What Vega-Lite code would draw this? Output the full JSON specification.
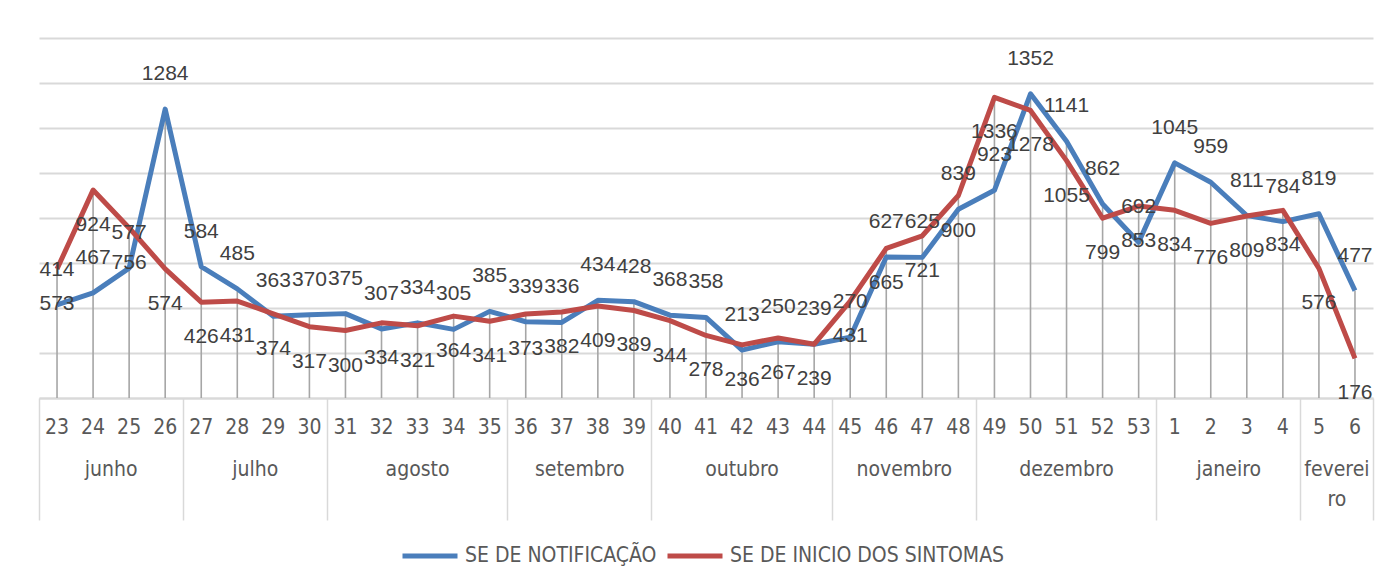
{
  "$schema": "https://vega.github.io/schema/vega-lite/v6.json",
  "width": 1334,
  "height": 360,
  "padding": {"left": 39, "top": 38, "right": 20, "bottom": 189},
  "autosize": {"type": "none"},
  "background": "white",
  "config": {"view": {"stroke": null}},
  "data": {
    "values": [
      {"sem": "23", "mes": "junho", "serie": "SE DE NOTIFICAÇÃO", "valor": 414},
      {"sem": "24", "mes": "junho", "serie": "SE DE NOTIFICAÇÃO", "valor": 467},
      {"sem": "25", "mes": "junho", "serie": "SE DE NOTIFICAÇÃO", "valor": 577},
      {"sem": "26", "mes": "junho", "serie": "SE DE NOTIFICAÇÃO", "valor": 1284},
      {"sem": "27", "mes": "julho", "serie": "SE DE NOTIFICAÇÃO", "valor": 584},
      {"sem": "28", "mes": "julho", "serie": "SE DE NOTIFICAÇÃO", "valor": 485},
      {"sem": "29", "mes": "julho", "serie": "SE DE NOTIFICAÇÃO", "valor": 363},
      {"sem": "30", "mes": "julho", "serie": "SE DE NOTIFICAÇÃO", "valor": 370},
      {"sem": "31", "mes": "agosto", "serie": "SE DE NOTIFICAÇÃO", "valor": 375},
      {"sem": "32", "mes": "agosto", "serie": "SE DE NOTIFICAÇÃO", "valor": 307},
      {"sem": "33", "mes": "agosto", "serie": "SE DE NOTIFICAÇÃO", "valor": 334},
      {"sem": "34", "mes": "agosto", "serie": "SE DE NOTIFICAÇÃO", "valor": 305},
      {"sem": "35", "mes": "agosto", "serie": "SE DE NOTIFICAÇÃO", "valor": 385},
      {"sem": "36", "mes": "setembro", "serie": "SE DE NOTIFICAÇÃO", "valor": 339},
      {"sem": "37", "mes": "setembro", "serie": "SE DE NOTIFICAÇÃO", "valor": 336},
      {"sem": "38", "mes": "setembro", "serie": "SE DE NOTIFICAÇÃO", "valor": 434},
      {"sem": "39", "mes": "setembro", "serie": "SE DE NOTIFICAÇÃO", "valor": 428},
      {"sem": "40", "mes": "outubro", "serie": "SE DE NOTIFICAÇÃO", "valor": 368},
      {"sem": "41", "mes": "outubro", "serie": "SE DE NOTIFICAÇÃO", "valor": 358},
      {"sem": "42", "mes": "outubro", "serie": "SE DE NOTIFICAÇÃO", "valor": 213},
      {"sem": "43", "mes": "outubro", "serie": "SE DE NOTIFICAÇÃO", "valor": 250},
      {"sem": "44", "mes": "outubro", "serie": "SE DE NOTIFICAÇÃO", "valor": 239},
      {"sem": "45", "mes": "novembro", "serie": "SE DE NOTIFICAÇÃO", "valor": 270},
      {"sem": "46", "mes": "novembro", "serie": "SE DE NOTIFICAÇÃO", "valor": 627},
      {"sem": "47", "mes": "novembro", "serie": "SE DE NOTIFICAÇÃO", "valor": 625},
      {"sem": "48", "mes": "novembro", "serie": "SE DE NOTIFICAÇÃO", "valor": 839},
      {"sem": "49", "mes": "dezembro", "serie": "SE DE NOTIFICAÇÃO", "valor": 923},
      {"sem": "50", "mes": "dezembro", "serie": "SE DE NOTIFICAÇÃO", "valor": 1352},
      {"sem": "51", "mes": "dezembro", "serie": "SE DE NOTIFICAÇÃO", "valor": 1141},
      {"sem": "52", "mes": "dezembro", "serie": "SE DE NOTIFICAÇÃO", "valor": 862},
      {"sem": "53", "mes": "dezembro", "serie": "SE DE NOTIFICAÇÃO", "valor": 692},
      {"sem": "1", "mes": "janeiro", "serie": "SE DE NOTIFICAÇÃO", "valor": 1045},
      {"sem": "2", "mes": "janeiro", "serie": "SE DE NOTIFICAÇÃO", "valor": 959},
      {"sem": "3", "mes": "janeiro", "serie": "SE DE NOTIFICAÇÃO", "valor": 811},
      {"sem": "4", "mes": "janeiro", "serie": "SE DE NOTIFICAÇÃO", "valor": 784},
      {"sem": "5", "mes": "fevereiro", "serie": "SE DE NOTIFICAÇÃO", "valor": 819},
      {"sem": "6", "mes": "fevereiro", "serie": "SE DE NOTIFICAÇÃO", "valor": 477},
      {"sem": "23", "mes": "junho", "serie": "SE DE INICIO DOS SINTOMAS", "valor": 573},
      {"sem": "24", "mes": "junho", "serie": "SE DE INICIO DOS SINTOMAS", "valor": 924},
      {"sem": "25", "mes": "junho", "serie": "SE DE INICIO DOS SINTOMAS", "valor": 756},
      {"sem": "26", "mes": "junho", "serie": "SE DE INICIO DOS SINTOMAS", "valor": 574},
      {"sem": "27", "mes": "julho", "serie": "SE DE INICIO DOS SINTOMAS", "valor": 426},
      {"sem": "28", "mes": "julho", "serie": "SE DE INICIO DOS SINTOMAS", "valor": 431},
      {"sem": "29", "mes": "julho", "serie": "SE DE INICIO DOS SINTOMAS", "valor": 374},
      {"sem": "30", "mes": "julho", "serie": "SE DE INICIO DOS SINTOMAS", "valor": 317},
      {"sem": "31", "mes": "agosto", "serie": "SE DE INICIO DOS SINTOMAS", "valor": 300},
      {"sem": "32", "mes": "agosto", "serie": "SE DE INICIO DOS SINTOMAS", "valor": 334},
      {"sem": "33", "mes": "agosto", "serie": "SE DE INICIO DOS SINTOMAS", "valor": 321},
      {"sem": "34", "mes": "agosto", "serie": "SE DE INICIO DOS SINTOMAS", "valor": 364},
      {"sem": "35", "mes": "agosto", "serie": "SE DE INICIO DOS SINTOMAS", "valor": 341},
      {"sem": "36", "mes": "setembro", "serie": "SE DE INICIO DOS SINTOMAS", "valor": 373},
      {"sem": "37", "mes": "setembro", "serie": "SE DE INICIO DOS SINTOMAS", "valor": 382},
      {"sem": "38", "mes": "setembro", "serie": "SE DE INICIO DOS SINTOMAS", "valor": 409},
      {"sem": "39", "mes": "setembro", "serie": "SE DE INICIO DOS SINTOMAS", "valor": 389},
      {"sem": "40", "mes": "outubro", "serie": "SE DE INICIO DOS SINTOMAS", "valor": 344},
      {"sem": "41", "mes": "outubro", "serie": "SE DE INICIO DOS SINTOMAS", "valor": 278},
      {"sem": "42", "mes": "outubro", "serie": "SE DE INICIO DOS SINTOMAS", "valor": 236},
      {"sem": "43", "mes": "outubro", "serie": "SE DE INICIO DOS SINTOMAS", "valor": 267},
      {"sem": "44", "mes": "outubro", "serie": "SE DE INICIO DOS SINTOMAS", "valor": 239},
      {"sem": "45", "mes": "novembro", "serie": "SE DE INICIO DOS SINTOMAS", "valor": 431},
      {"sem": "46", "mes": "novembro", "serie": "SE DE INICIO DOS SINTOMAS", "valor": 665},
      {"sem": "47", "mes": "novembro", "serie": "SE DE INICIO DOS SINTOMAS", "valor": 721},
      {"sem": "48", "mes": "novembro", "serie": "SE DE INICIO DOS SINTOMAS", "valor": 900},
      {"sem": "49", "mes": "dezembro", "serie": "SE DE INICIO DOS SINTOMAS", "valor": 1336},
      {"sem": "50", "mes": "dezembro", "serie": "SE DE INICIO DOS SINTOMAS", "valor": 1278},
      {"sem": "51", "mes": "dezembro", "serie": "SE DE INICIO DOS SINTOMAS", "valor": 1055},
      {"sem": "52", "mes": "dezembro", "serie": "SE DE INICIO DOS SINTOMAS", "valor": 799},
      {"sem": "53", "mes": "dezembro", "serie": "SE DE INICIO DOS SINTOMAS", "valor": 853},
      {"sem": "1", "mes": "janeiro", "serie": "SE DE INICIO DOS SINTOMAS", "valor": 834},
      {"sem": "2", "mes": "janeiro", "serie": "SE DE INICIO DOS SINTOMAS", "valor": 776},
      {"sem": "3", "mes": "janeiro", "serie": "SE DE INICIO DOS SINTOMAS", "valor": 809},
      {"sem": "4", "mes": "janeiro", "serie": "SE DE INICIO DOS SINTOMAS", "valor": 834},
      {"sem": "5", "mes": "fevereiro", "serie": "SE DE INICIO DOS SINTOMAS", "valor": 576},
      {"sem": "6", "mes": "fevereiro", "serie": "SE DE INICIO DOS SINTOMAS", "valor": 176}
    ]
  },
  "layer": [
    {
      "mark": {"type": "rule", "color": "#a6a6a6", "strokeWidth": 1.6},
      "encoding": {
        "x": {
          "field": "sem", "type": "nominal",
          "scale": {"type": "band", "paddingInner": 0, "paddingOuter": 0,
            "domain": ["23","24","25","26","27","28","29","30","31","32","33","34","35","36","37","38","39","40","41","42","43","44","45","46","47","48","49","50","51","52","53","1","2","3","4","5","6"]},
          "axis": {
            "orient": "bottom",
            "title": null,
            "bandPosition": 1,
            "tickExtra": true,
            "domain": false,
            "grid": false,
            "ticks": true,
            "tickSize": 122,
            "tickColor": "#d9d9d9",
            "tickWidth": 1.5,
            "tickOpacity": {"condition": {"test": "datum.extra || indexof(['26','30','35','39','44','48','53','4','6'], datum.value) >= 0", "value": 1}, "value": 0},
            "labelExpr": "datum.value == '24' ? 'junho' : datum.value == '28' ? 'julho' : datum.value == '33' ? 'agosto' : datum.value == '37' ? 'setembro' : datum.value == '42' ? 'outubro' : datum.value == '46' ? 'novembro' : datum.value == '51' ? 'dezembro' : datum.value == '2' ? 'janeiro' : datum.value == '5' ? ['feverei','ro'] : ''",
            "labelPadding": -62,
            "labelAngle": 0,
            "labelFont": "DejaVu Sans Condensed, sans-serif",
            "labelFontSize": 21,
            "labelColor": "#595959",
            "labelLineHeight": 30,
            "labelOverlap": false,
            "labelBound": false,
            "labelFlush": false,
            "labelOffset": {"condition": {"test": "indexof(['24','28','37','46','2','5'], datum.value) >= 0", "value": 18}, "value": 0}
          }
        },
        "y": {"aggregate": "max", "field": "valor", "type": "quantitative"},
        "y2": {"datum": 0}
      }
    },
    {
      "transform": [{"filter": "datum.serie == 'SE DE NOTIFICAÇÃO'"}],
      "mark": {"type": "line", "strokeWidth": 5, "strokeJoin": "round"},
      "encoding": {
        "x": {
          "field": "sem", "type": "nominal",
          "axis": {
            "orient": "bottom",
            "title": null,
            "domain": true,
            "domainColor": "#d9d9d9",
            "domainWidth": 2,
            "ticks": false,
            "grid": false,
            "labelPadding": 18,
            "labelAngle": 0,
            "labelFont": "DejaVu Sans Condensed, sans-serif",
            "labelFontSize": 21,
            "labelColor": "#595959",
            "labelOverlap": false
          }
        },
        "y": {
          "field": "valor", "type": "quantitative",
          "scale": {"domain": [0, 1600]},
          "axis": {"values": [0,200,400,600,800,1000,1200,1400,1600], "grid": true, "gridColor": "#d9d9d9", "gridWidth": 2, "labels": false, "ticks": false, "domain": false, "title": null}
        },
        "color": {
          "field": "serie", "type": "nominal",
          "scale": {"domain": ["SE DE NOTIFICAÇÃO", "SE DE INICIO DOS SINTOMAS"], "range": ["#4a7ebb", "#be4b48"]},
          "legend": {
            "orient": "none",
            "legendX": 361,
            "legendY": 488,
            "direction": "horizontal",
            "title": null,
            "symbolType": "stroke",
            "symbolSize": 3025,
            "symbolStrokeWidth": 5,
            "labelFont": "DejaVu Sans Condensed, sans-serif",
            "labelFontSize": 21,
            "labelColor": "#595959",
            "labelOffset": 5,
            "columnPadding": 0,
            "labelLimit": 400
          }
        }
      }
    },
    {
      "transform": [{"filter": "datum.serie == 'SE DE INICIO DOS SINTOMAS'"}],
      "mark": {"type": "line", "strokeWidth": 5, "strokeJoin": "round"},
      "encoding": {
        "x": {"field": "sem", "type": "nominal", "axis": null},
        "y": {"field": "valor", "type": "quantitative"},
        "color": {"field": "serie", "type": "nominal"}
      }
    },
    {
      "transform": [{"filter": "datum.serie == 'SE DE NOTIFICAÇÃO'"}],
      "mark": {"type": "text", "baseline": "alphabetic", "dy": -29, "font": "Liberation Sans, sans-serif", "fontSize": 21, "color": "#404040"},
      "encoding": {
        "x": {"field": "sem", "type": "nominal", "axis": null},
        "y": {"field": "valor", "type": "quantitative"},
        "text": {"field": "valor", "type": "quantitative"}
      }
    },
    {
      "transform": [{"filter": "datum.serie == 'SE DE INICIO DOS SINTOMAS'"}],
      "mark": {"type": "text", "baseline": "alphabetic", "dy": 41, "font": "Liberation Sans, sans-serif", "fontSize": 21, "color": "#404040"},
      "encoding": {
        "x": {"field": "sem", "type": "nominal", "axis": null},
        "y": {"field": "valor", "type": "quantitative"},
        "text": {"field": "valor", "type": "quantitative"}
      }
    }
  ],
  "resolve": {"axis": {"x": "independent"}}
}
